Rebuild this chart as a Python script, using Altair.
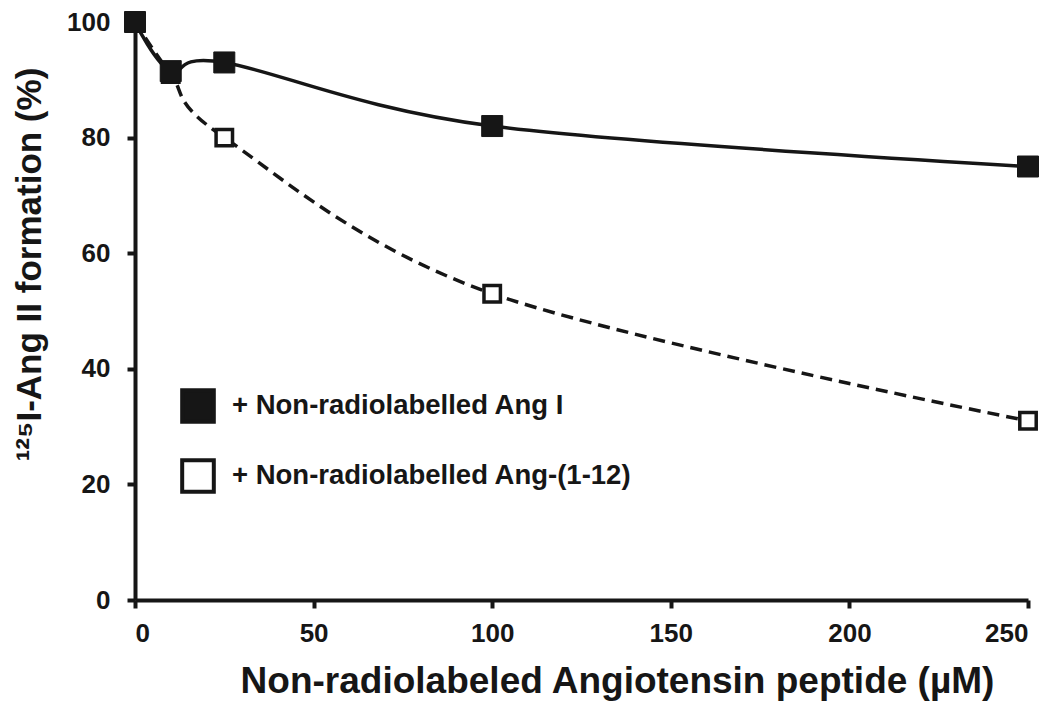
import altair as alt
import pandas as pd

conc = [0, 10, 25, 100, 250]
ang_i = [100, 91.5, 93, 82, 75]
ang_112 = [100, 91, 80, 53, 31]
series_names = ["+ Non-radiolabelled Ang I", "+ Non-radiolabelled Ang-(1-12)"]

rows = []
for x, y in zip(conc, ang_i):
    rows.append({"conc": x, "val": y, "series": series_names[0]})
for x, y in zip(conc, ang_112):
    rows.append({"conc": x, "val": y, "series": series_names[1]})
df = pd.DataFrame(rows)

FONT = "Liberation Sans"
INK = "#161616"

xenc = alt.X("conc:Q", scale=alt.Scale(domain=[0, 250], nice=False, zero=False),
             axis=alt.Axis(values=[0, 50, 100, 150, 200, 250], title="Non-radiolabeled Angiotensin peptide (µM)",
                           titleX=482, titleY=92, titleBaseline="alphabetic",
                           labelPadding=12, tickSize=8))
yenc = alt.Y("val:Q", scale=alt.Scale(domain=[0, 100], nice=False),
             axis=alt.Axis(values=[0, 20, 40, 60, 80, 100], title="¹²⁵I-Ang II formation (%)",
                           titleX=-106, titleY=242, titleBaseline="middle",
                           labelPadding=17, tickSize=8))

d2 = df[df.series == series_names[1]]
d1 = df[df.series == series_names[0]]

line2 = alt.Chart(d2).mark_line(interpolate="cardinal", color=INK, strokeWidth=3.5,
                                strokeDash=[12, 7]).encode(x=xenc, y=yenc)
line1 = alt.Chart(d1).mark_line(interpolate="cardinal", color=INK, strokeWidth=3.5).encode(x=xenc, y=yenc)

fill_scale = alt.Scale(domain=series_names, range=[INK, "white"])
legend = alt.Legend(title=None, orient="none", legendX=45, legendY=366, symbolType="square",
                    symbolSize=1000, symbolStrokeColor=INK, symbolStrokeWidth=4,
                    labelFont=FONT, labelFontSize=27.5, labelFontWeight="bold", labelColor=INK,
                    rowPadding=22, labelOffset=16, padding=0, labelLimit=600)

pts2 = alt.Chart(d2).mark_point(shape="square", filled=True, size=270, stroke=INK,
                                strokeWidth=3.5, opacity=1).encode(
    x=xenc, y=yenc, fill=alt.Fill("series:N", scale=fill_scale, legend=legend))
pts1 = alt.Chart(d1).mark_point(shape="square", filled=True, size=441, stroke=INK,
                                strokeWidth=1, opacity=1).encode(
    x=xenc, y=yenc, fill=alt.Fill("series:N", scale=fill_scale, legend=legend))

chart = alt.layer(line2, line1, pts2, pts1).properties(
    width=893, height=578,
    autosize=alt.AutoSizeParams(type="none"),
    padding={"left": 127, "top": 14, "right": 14, "bottom": 101},
).configure_view(stroke=None).configure_axis(
    labelFont=FONT, labelFontSize=26, labelFontWeight="bold", labelColor=INK,
    titleFont=FONT, titleFontWeight="bold", titleColor=INK,
    domainColor=INK, domainWidth=4, tickColor=INK, tickWidth=4, grid=False,
).configure_axisX(titleFontSize=37).configure_axisY(titleFontSize=35)

chart.save("out.html", embed_options={"renderer": "svg", "actions": False})
